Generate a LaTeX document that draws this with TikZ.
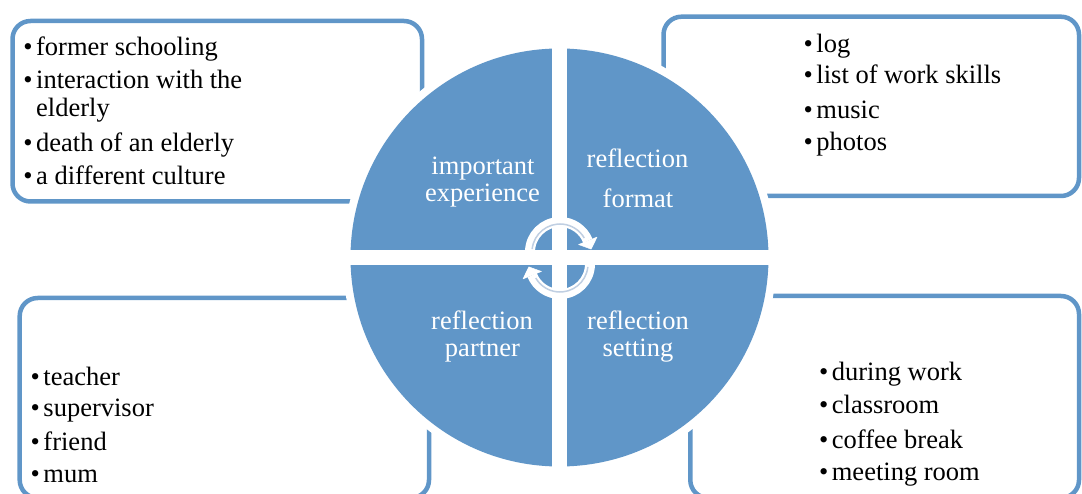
\documentclass[tikz,border=0pt]{standalone}
\usepackage{fontspec}
\setmainfont{Liberation Serif}

\definecolor{wheelblue}{RGB}{96,150,200}
\definecolor{arrowedge}{RGB}{192,207,226}
\newcommand{\bul}{\textbullet\hspace{3.5pt}}

\begin{document}
\begin{tikzpicture}[x=1pt,y=1pt,yscale=-1,
  listbox/.style={draw=wheelblue, line width=4.5, rounded corners=18},
  listtxt/.style={anchor=base west, inner sep=0, font=\fontsize{26.5}{30}\selectfont},
  wheeltxt/.style={anchor=base, inner sep=0, text=white, font=\fontsize{26.5}{30}\selectfont},
  cyclearc/.style={draw=white, line width=10}]
\useasboundingbox (0,0) rectangle (1082,494);

%Rounded Rect [top left]
\draw [listbox] (12.5,21) rectangle (422,201.5);
%Rounded Rect [top right]
\draw [listbox] (663.5,16.7) rectangle (1079,196);
%Rounded Rect [bottom left]
\draw [listbox] (19.7,298) rectangle (429,498);
%Rounded Rect [bottom right]
\draw [listbox] (690.3,296) rectangle (1079,498);

%Shape: Circle
\coordinate (hub) at (559.5,257.5);
\fill [white] (hub) circle (217);
\fill [wheelblue] (hub) circle (209);
%Straight Lines [cross]
\draw [white, line width=15] (559.5,40) -- (559.5,475);
\draw [white, line width=15] (342,257.5) -- (777,257.5);

%Curve Lines [top arrow]
\coordinate (ctop) at (560,252);
\draw [cyclearc] (ctop) ++(180:30) arc [start angle=180, end angle=338, radius=30];
\draw [arrowedge, line width=1.5] (ctop) ++(186:28) arc [start angle=186, end angle=330, radius=28];
\draw [shift={(587.8,240.8)}, rotate=68] [fill=white, draw=white, line join=round] (0,-10) -- (9,0) -- (0,10) -- cycle;
%Curve Lines [bottom arrow]
\coordinate (cbot) at (560,264);
\draw [cyclearc] (cbot) ++(0:30) arc [start angle=0, end angle=158, radius=30];
\draw [arrowedge, line width=1.5] (cbot) ++(6:28) arc [start angle=6, end angle=150, radius=28];
\draw [shift={(532.2,275.2)}, rotate=248] [fill=white, draw=white, line join=round] (0,-10) -- (9,0) -- (0,10) -- cycle;

%Wheel labels
\node [wheeltxt] (imp1) at (483,175) {important};
\node [wheeltxt] (imp2) at (482.5,202) {experience};
\node [wheeltxt] (fmt1) at (637.5,168) {reflection};
\node [wheeltxt] (fmt2) at (638,208) {format};
\node [wheeltxt] (prt1) at (482,330) {reflection};
\node [wheeltxt] (prt2) at (482.5,357) {partner};
\node [wheeltxt] (set1) at (638,330) {reflection};
\node [wheeltxt] (set2) at (638,357) {setting};

%Lists
\foreach \yy/\txt [count=\i] in {56/\bul former schooling, 88.3/\bul interaction with the, 116.7/\phantom{\bul}elderly, 151.7/\bul death of an elderly, 184.3/\bul a different culture}
  \node [listtxt] (exp\i) at (23.2,\yy) {\txt};
\foreach \yy/\txt [count=\i] in {52.5/\bul log, 84/\bul list of work skills, 119/\bul music, 150.5/\bul photos}
  \node [listtxt] (fmt\i) at (803.5,\yy) {\txt};
\foreach \yy/\txt [count=\i] in {385/\bul teacher, 416.7/\bul supervisor, 450.7/\bul friend, 482.3/\bul mum}
  \node [listtxt] (prt\i) at (30.5,\yy) {\txt};
\foreach \yy/\txt [count=\i] in {380.7/\bul during work, 413.3/\bul classroom, 448.3/\bul coffee break, 480/\bul meeting room}
  \node [listtxt] (set\i) at (818.9,\yy) {\txt};

\end{tikzpicture}
\end{document}
